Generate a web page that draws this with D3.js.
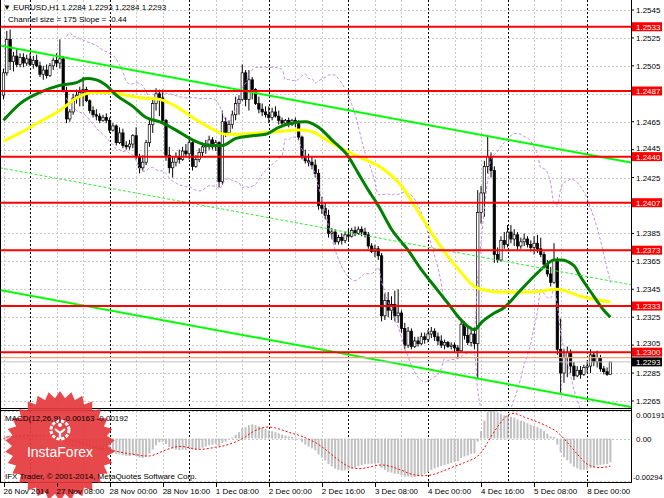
<!DOCTYPE html>
<html>
<head>
<meta charset="utf-8">
<script src="https://cdn.jsdelivr.net/npm/d3@7"></script>
<style>
  body { margin: 0; background: #fff; }
  text { font-family: "Liberation Sans", Arial, sans-serif; font-size: 8px; }
</style>
</head>
<body>
<script>
// EURUSD H1, 26 Nov 16:00 .. 8 Dec 07:00 (one value per hourly bar)
const firstOpen = 1.2484;
const closes = [
  1.2500,1.2524,1.2508,1.2512,1.2506,1.2511,1.2507,1.2510,1.2506,1.2509,
  1.2505,1.2499,1.2502,1.2498,1.2505,1.2509,1.2507,1.2510,1.2487,1.2467,
  1.2472,1.2482,1.2484,1.2486,1.2488,1.2480,1.2473,1.2470,1.2469,1.2466,
  1.2468,1.2466,1.2459,1.2462,1.2450,1.2457,1.2448,1.2447,1.2449,1.2455,
  1.2440,1.2432,1.2436,1.2450,1.2463,1.2478,1.2485,1.2482,1.2466,1.2441,
  1.2432,1.2436,1.2440,1.2438,1.2444,1.2442,1.2450,1.2433,1.2438,1.2443,
  1.2447,1.2449,1.2452,1.2447,1.2450,1.2422,1.2465,1.2457,1.2463,1.2470,
  1.2478,1.2481,1.2500,1.2481,1.2495,1.2488,1.2478,1.2474,1.2472,1.2470,
  1.2468,1.2472,1.2469,1.2466,1.2464,1.2466,1.2463,1.2466,1.2464,1.2454,
  1.2440,1.2437,1.2436,1.2434,1.2428,1.2405,1.2403,1.2398,1.2385,1.2386,
  1.2379,1.2382,1.2380,1.2384,1.2383,1.2387,1.2385,1.2388,1.2386,1.2384,
  1.2376,1.2372,1.2374,1.2369,1.2326,1.2337,1.2330,1.2334,1.2326,1.2328,
  1.2317,1.2305,1.2315,1.2304,1.2308,1.2306,1.2311,1.2309,1.2313,1.2315,
  1.2311,1.2308,1.2305,1.2307,1.2304,1.2305,1.2303,1.2301,1.2320,1.2312,
  1.2307,1.2313,1.2306,1.2400,1.2414,1.2433,1.2440,1.2430,1.2370,1.2366,
  1.2380,1.2377,1.2386,1.2381,1.2384,1.2376,1.2379,1.2381,1.2377,1.2375,
  1.2378,1.2374,1.2370,1.2363,1.2356,1.2350,1.2366,1.2302,1.2285,1.2296,
  1.2300,1.2290,1.2283,1.2287,1.2284,1.2289,1.2290,1.2298,1.2293,1.2296,
  1.2288,1.2286,1.2284,1.2293
];
const highs = [
  1.2503,1.2530,1.2531,1.2515,1.2517,1.2514,1.2514,1.2513,1.2514,1.2512,
  1.2513,1.2508,1.2505,1.2506,1.2507,1.2511,1.2514,1.2524,1.2512,1.2490,
  1.2474,1.2485,1.2488,1.2490,1.2497,1.2490,1.2481,1.2476,1.2474,1.2471,
  1.2470,1.2471,1.2468,1.2464,1.2463,1.2461,1.2460,1.2451,1.2452,1.2456,
  1.2461,1.2442,1.2441,1.2452,1.2467,1.2481,1.2489,1.2488,1.2488,1.2467,
  1.2447,1.2440,1.2443,1.2445,1.2447,1.2449,1.2454,1.2451,1.2441,1.2446,
  1.2450,1.2452,1.2455,1.2454,1.2452,1.2451,1.2473,1.2468,1.2466,1.2473,
  1.2483,1.2484,1.2506,1.2502,1.2502,1.2497,1.2489,1.2483,1.2478,1.2476,
  1.2476,1.2475,1.2476,1.2473,1.2468,1.2467,1.2468,1.2467,1.2468,1.2466,
  1.2455,1.2445,1.2442,1.2440,1.2438,1.2431,1.2411,1.2407,1.2402,1.2389,
  1.2388,1.2384,1.2385,1.2386,1.2388,1.2389,1.2390,1.2390,1.2390,1.2389,
  1.2386,1.2378,1.2377,1.2376,1.2371,1.2342,1.2343,1.2340,1.2344,1.2345,
  1.2330,1.2321,1.2318,1.2317,1.2311,1.2311,1.2314,1.2314,1.2316,1.2318,
  1.2317,1.2314,1.2312,1.2309,1.2308,1.2307,1.2307,1.2305,1.2323,1.2322,
  1.2318,1.2316,1.2318,1.2416,1.2419,1.2437,1.2455,1.2443,1.2433,1.2375,
  1.2383,1.2386,1.2391,1.2391,1.2388,1.2386,1.2382,1.2385,1.2383,1.2380,
  1.2383,1.2384,1.2382,1.2372,1.2366,1.2361,1.2378,1.2368,1.2324,1.2302,
  1.2304,1.2302,1.2293,1.2290,1.2290,1.2291,1.2294,1.2302,1.2300,1.2301,
  1.2298,1.2290,1.2289,1.2293
];
const lows = [
  1.2481,1.2498,1.2502,1.2501,1.2504,1.2504,1.2504,1.2505,1.2505,1.2503,
  1.2504,1.2497,1.2495,1.2496,1.2497,1.2502,1.2504,1.2503,1.2486,1.2464,
  1.2465,1.2470,1.2478,1.2476,1.2476,1.2479,1.2471,1.2468,1.2466,1.2464,
  1.2465,1.2464,1.2457,1.2458,1.2448,1.2449,1.2446,1.2445,1.2445,1.2446,
  1.2438,1.2428,1.2430,1.2434,1.2447,1.2457,1.2473,1.2469,1.2464,1.2437,
  1.2428,1.2425,1.2433,1.2435,1.2437,1.2440,1.2438,1.2430,1.2432,1.2436,
  1.2440,1.2442,1.2445,1.2445,1.2444,1.2418,1.2420,1.2454,1.2456,1.2460,
  1.2466,1.2470,1.2480,1.2476,1.2473,1.2481,1.2477,1.2471,1.2469,1.2468,
  1.2464,1.2466,1.2468,1.2463,1.2462,1.2462,1.2461,1.2462,1.2461,1.2452,
  1.2438,1.2435,1.2433,1.2431,1.2425,1.2402,1.2399,1.2395,1.2382,1.2381,
  1.2377,1.2377,1.2377,1.2378,1.2380,1.2382,1.2383,1.2384,1.2383,1.2382,
  1.2374,1.2371,1.2368,1.2366,1.2322,1.2323,1.2325,1.2323,1.2322,1.2321,
  1.2314,1.2302,1.2303,1.2302,1.2303,1.2304,1.2305,1.2306,1.2307,1.2310,
  1.2308,1.2305,1.2303,1.2302,1.2303,1.2302,1.2300,1.2295,1.2300,1.2309,
  1.2305,1.2304,1.2302,1.2281,1.2392,1.2397,1.2428,1.2425,1.2364,1.2364,
  1.2365,1.2374,1.2375,1.2378,1.2376,1.2373,1.2374,1.2376,1.2375,1.2372,
  1.2370,1.2371,1.2368,1.2361,1.2354,1.2347,1.2349,1.2298,1.2271,1.2278,
  1.2282,1.2285,1.2280,1.2282,1.2281,1.2283,1.2285,1.2285,1.2290,1.2289,
  1.2286,1.2284,1.2283,1.2284
];
// moving averages as [bar, price]
const maGreen = [[0,1.2466],[5,1.2478],[11,1.2486],[17,1.2491],[22,1.2493],[25,1.2496],[28,1.2495],
  [31,1.2491],[34,1.2484],[39,1.2476],[43,1.2468],[47,1.2465],[52,1.2459],[57,1.2452],[62,1.2448],
  [66,1.2448],[70,1.2453],[75,1.2455],[79,1.2456],[83,1.2461],[87,1.2464],[91,1.2465],[95,1.2461],
  [99,1.2452],[104,1.2440],[107,1.2428],[110,1.2416],[113,1.2405],[117,1.2388],[122,1.2373],
  [126,1.2359],[130,1.2347],[134,1.2335],[138,1.2323],[142,1.2316],[144,1.2321],[148,1.2328],
  [151,1.2332],[155,1.2342],[159,1.2352],[163,1.2361],[166,1.2366],[168,1.2366],[172,1.2362],
  [174,1.2354],[178,1.2340],[181,1.2330],[183,1.2325]];
const maYellow = [[0,1.2451],[5,1.2457],[11,1.2465],[17,1.2473],[22,1.2482],[27,1.2486],[32,1.2486],
  [37,1.2484],[42,1.2482],[47,1.2481],[52,1.2476],[57,1.2468],[62,1.2461],[67,1.2456],[71,1.2456],
  [77,1.2457],[83,1.2458],[89,1.2459],[93,1.2458],[96,1.2454],[101,1.2447],[107,1.2440],[114,1.2432],
  [120,1.2419],[126,1.2397],[132,1.2375],[138,1.2357],[142,1.2347],[144,1.2345],[150,1.2343],
  [159,1.2343],[167,1.2345],[174,1.2340],[180,1.2337],[183,1.2336]];

const levels = [1.2533, 1.2487, 1.2440, 1.2407, 1.2373, 1.2333, 1.2300];
const askLevel = 1.2296;
const priceTicks = [1.2545,1.2525,1.2505,1.2485,1.2465,1.2445,1.2425,1.2405,1.2385,1.2365,1.2345,1.2325,1.2305,1.2285,1.2265];
const macdTicks = [0.00191, 0, -0.00294];
const macdTickText = ["0.00191", "0.00", "-0.00294"];
const timeLabels = ["26 Nov 2014","27 Nov 08:00","28 Nov 00:00","28 Nov 16:00","1 Dec 08:00","2 Dec 00:00",
  "2 Dec 16:00","3 Dec 08:00","4 Dec 00:00","4 Dec 16:00","5 Dec 08:00","8 Dec 00:00"];
const dayStarts = [8, 32, 56, 80, 104, 128, 152, 176];
// regression channel: upper border at bar 0, width and slope per bar
const channelUpper0 = 1.2519, channelSize = 0.0175, channelSlope = -0.000044;

const W = 664, H = 498;
const opens = closes.map((c, i) => i ? closes[i - 1] : firstOpen);
const n = closes.length;

const x = d3.scaleLinear().domain([0, n - 1]).range([3.5, 610.4]);
const y = d3.scaleLinear().domain([1.2545, 1.2265]).range([10, 401]);
const ym = d3.scaleLinear().domain([0.00191, -0.00294]).range([411, 481]);

const svg = d3.select("body").append("svg").attr("width", W).attr("height", H).style("display", "block");
svg.append("rect").attr("width", W).attr("height", H).attr("fill", "#fff");

const defs = svg.append("defs");
defs.append("clipPath").attr("id", "cMain").append("rect").attr("x", 1).attr("y", 0).attr("width", 630).attr("height", 408);
defs.append("clipPath").attr("id", "cMacd").append("rect").attr("x", 1).attr("y", 411).attr("width", 630).attr("height", 71);

const main = svg.append("g").attr("clip-path", "url(#cMain)");
const sub = svg.append("g").attr("clip-path", "url(#cMacd)");

// grid
const gridBars = d3.range(0, n, 8).filter(b => !dayStarts.includes(b));
for (const g of [main, sub]) {
  const [y0, y1] = g === main ? [0, 408] : [411, 482];
  g.selectAll(".vg").data(gridBars).join("line")
    .attr("x1", d => Math.round(x(d)) + 0.5).attr("x2", d => Math.round(x(d)) + 0.5)
    .attr("y1", y0).attr("y2", y1)
    .attr("stroke", "#c8c8c8").attr("stroke-dasharray", "2,2");
  g.selectAll(".vs").data(dayStarts).join("line")
    .attr("x1", d => Math.round(x(d)) + 0.5).attr("x2", d => Math.round(x(d)) + 0.5)
    .attr("y1", y0).attr("y2", y1)
    .attr("stroke", "#000").attr("stroke-dasharray", "2,2");
}
main.selectAll(".hg").data(priceTicks).join("line")
  .attr("x1", 0).attr("x2", 631)
  .attr("y1", d => Math.round(y(d)) + 0.5).attr("y2", d => Math.round(y(d)) + 0.5)
  .attr("stroke", "#c8c8c8").attr("stroke-dasharray", "2,2");
sub.selectAll(".hg").data(macdTicks).join("line")
  .attr("x1", 0).attr("x2", 631)
  .attr("y1", d => Math.round(ym(d)) + 0.5).attr("y2", d => Math.round(ym(d)) + 0.5)
  .attr("stroke", "#c8c8c8").attr("stroke-dasharray", "2,2");

// candles
const bars = d3.range(n);
main.selectAll(".wick").data(bars).join("line")
  .attr("x1", i => x(i)).attr("x2", i => x(i))
  .attr("y1", i => y(highs[i])).attr("y2", i => y(lows[i]))
  .attr("stroke", "#000").attr("stroke-width", 1);
main.selectAll(".body").data(bars).join("rect")
  .attr("x", i => x(i) - 1.2).attr("width", 2.4)
  .attr("y", i => y(Math.max(opens[i], closes[i])))
  .attr("height", i => Math.max(1, Math.abs(y(opens[i]) - y(closes[i]))))
  .attr("fill", i => closes[i] >= opens[i] ? "#fff" : "#000")
  .attr("stroke", "#000").attr("stroke-width", 0.7);

// Bollinger bands (20, 2) from closes
const band = [];
for (let i = 19; i < n; i++) {
  const w = closes.slice(i - 19, i + 1);
  const m = d3.mean(w), sd = Math.sqrt(d3.mean(w, v => (v - m) ** 2));
  band.push({ i, up: m + 2 * sd, dn: m - 2 * sd });
}
for (const k of ["up", "dn"]) {
  main.append("path").datum(band)
    .attr("d", d3.line().x(d => x(d.i)).y(d => y(d[k])).curve(d3.curveMonotoneX))
    .attr("fill", "none").attr("stroke", "#c88be6").attr("stroke-width", 1).attr("stroke-dasharray", "3,2");
}

// moving averages
const maLine = d3.line().x(d => x(d[0])).y(d => y(d[1])).curve(d3.curveMonotoneX);
main.append("path").attr("d", maLine(maYellow)).attr("fill", "none").attr("stroke", "#ffff00").attr("stroke-width", 3);
main.append("path").attr("d", maLine(maGreen)).attr("fill", "none").attr("stroke", "#008000").attr("stroke-width", 3);

// channel
const bL = x.invert(0), bR = x.invert(631);
const chan = (off, b) => channelUpper0 - off + channelSlope * b;
[[0, "#00ff00", 2, null], [channelSize, "#00ff00", 2, null], [channelSize / 2, "#33ee33", 1, "3,2"]]
  .forEach(([off, col, sw, dash]) => {
    main.append("line")
      .attr("x1", x(bL)).attr("y1", y(chan(off, bL)))
      .attr("x2", x(bR)).attr("y2", y(chan(off, bR)))
      .attr("stroke", col).attr("stroke-width", sw).attr("stroke-dasharray", dash);
  });

// horizontal levels
main.selectAll(".lvl").data(levels).join("line")
  .attr("x1", 0).attr("x2", 631).attr("y1", d => y(d)).attr("y2", d => y(d))
  .attr("stroke", "#ff0000").attr("stroke-width", 2);
main.append("line").attr("x1", 0).attr("x2", 631).attr("y1", y(askLevel)).attr("y2", y(askLevel))
  .attr("stroke", "#f5a07a").attr("stroke-width", 1.2);
main.append("line").attr("x1", 0).attr("x2", 631).attr("y1", y(closes[n - 1])).attr("y2", y(closes[n - 1]))
  .attr("stroke", "#c0c0c0").attr("stroke-width", 1);

// MACD (12, 26, 9), signal as SMA
const ema = p => { const a = 2 / (p + 1); let e = closes[0]; return closes.map(c => (e = e + a * (c - e))); };
const e12 = ema(12), e26 = ema(26);
const macd = e12.map((v, i) => v - e26[i]);
const signal = macd.map((v, i) => d3.mean(macd.slice(Math.max(0, i - 8), i + 1)));
sub.selectAll(".hist").data(bars).join("rect")
  .attr("x", i => x(i) - 1).attr("width", 2)
  .attr("y", i => Math.min(ym(0), ym(macd[i])))
  .attr("height", i => Math.abs(ym(macd[i]) - ym(0)))
  .attr("fill", "#c0c0c0");
sub.append("path").datum(bars)
  .attr("d", d3.line().x(i => x(i)).y(i => ym(signal[i])))
  .attr("fill", "none").attr("stroke", "#ff0000").attr("stroke-width", 1).attr("stroke-dasharray", "2,2");

// frames
const fr = svg.append("g").attr("stroke", "#000").attr("stroke-width", 1).attr("shape-rendering", "crispEdges");
fr.append("line").attr("x1", 0.5).attr("x2", 0.5).attr("y1", 0).attr("y2", 483);
fr.append("line").attr("x1", 631.5).attr("x2", 631.5).attr("y1", 0).attr("y2", 483);
fr.append("line").attr("x1", 0).attr("x2", 632).attr("y1", 408.5).attr("y2", 408.5);
fr.append("line").attr("x1", 0).attr("x2", 632).attr("y1", 410.5).attr("y2", 410.5);
fr.append("line").attr("x1", 0).attr("x2", 632).attr("y1", 482.5).attr("y2", 482.5);

// InstaForex badge
const badge = svg.append("g").attr("transform", "translate(60,446)");
const spikes = 30;
badge.append("path")
  .attr("d", d3.lineRadial().curve(d3.curveLinearClosed)(d3.range(spikes * 2).map(k => [k * Math.PI / spikes, k % 2 ? 48 : 55])))
  .attr("fill", "#e53a3d").attr("opacity", 0.93);
badge.append("circle").attr("cx", 0).attr("cy", -16).attr("r", 9)
  .attr("fill", "none").attr("stroke", "#fff").attr("stroke-width", 3).attr("stroke-dasharray", "3.2,1.6");
badge.append("circle").attr("cx", 0).attr("cy", -21).attr("r", 2).attr("fill", "#fff");
badge.append("path").attr("d", "M-5,-17 L0,-13 L5,-17 M0,-13 L0,-7")
  .attr("stroke", "#fff").attr("stroke-width", 2.2).attr("fill", "none");
badge.append("text").attr("x", 0).attr("y", 11).attr("text-anchor", "middle")
  .style("font-size", "14px").attr("fill", "#fff").text("InstaForex");

// price axis; tick labels hidden under a tag are left out, near ones nudged clear
const ax = svg.append("g");
const tagH = 9;
const tags = levels.map(v => ({ v, bg: "#ff0000" })).concat([{ v: closes[n - 1], bg: "#000" }]);
const tagVals = tags.map(t => t.v);
const shownTicks = priceTicks.filter(t => d3.min(tagVals, v => Math.abs(y(v) - y(t))) > 4);
const tickBase = t => {
  let b = y(t) + 3;
  for (const v of tagVals) {
    const d = y(v) - y(t);
    if (d > 0 && d < 10) b = Math.min(b, y(v) - tagH / 2 - 1.5);
  }
  return b;
};
ax.selectAll(".pt").data(shownTicks).join("text")
  .attr("x", 636).attr("y", tickBase).text(d => d.toFixed(4));
ax.selectAll(".tk").data(priceTicks).join("line")
  .attr("x1", 631).attr("x2", 634).attr("y1", d => y(d)).attr("y2", d => y(d)).attr("stroke", "#000");
ax.selectAll(".tagr").data(tags).join("rect")
  .attr("x", 632).attr("y", d => y(d.v) - tagH / 2).attr("width", 30).attr("height", tagH).attr("fill", d => d.bg);
ax.selectAll(".tagt").data(tags).join("text")
  .attr("x", 636).attr("y", d => y(d.v) + 3).attr("fill", "#fff").text(d => d.v.toFixed(4));
ax.selectAll(".mt").data(macdTicks).join("text")
  .attr("x", (d, i) => i === 2 ? 633 : 636)
  .attr("y", (d, i) => ym(d) + (i === 0 ? 7 : i === 2 ? -1 : 3))
  .style("font-size", (d, i) => i === 2 ? "7.5px" : null)
  .text((d, i) => macdTickText[i]);

// time axis
const labelBars = timeLabels.map((t, k) => k * 16);
svg.selectAll(".tl").data(timeLabels).join("text")
  .attr("x", (d, k) => x(labelBars[k])).attr("y", 494).text(d => d);
svg.selectAll(".tt").data(labelBars).join("line")
  .attr("x1", d => Math.round(x(d)) + 0.5).attr("x2", d => Math.round(x(d)) + 0.5)
  .attr("y1", 483).attr("y2", 487).attr("stroke", "#000");

// captions
const last = n - 1;
svg.append("text").attr("x", 3).attr("y", 10)
  .text(`\u25BC EURUSD,H1  ${opens[last].toFixed(4)} ${highs[last].toFixed(4)} ${lows[last].toFixed(4)} ${closes[last].toFixed(4)}`);
svg.append("text").attr("x", 8).attr("y", 22)
  .text(`Channel size = ${Math.round(channelSize * 10000)} Slope = ${(channelSlope * 10000).toFixed(2)}`);
svg.append("text").attr("x", 5).attr("y", 421).text("MACD(12,26,9) -0.00163 -0.00192");
svg.append("text").attr("x", 5).attr("y", 479).text("IFX Trader, \u00A9 2001-2014, MetaQuotes Software Corp.");
</script>
</body>
</html>
